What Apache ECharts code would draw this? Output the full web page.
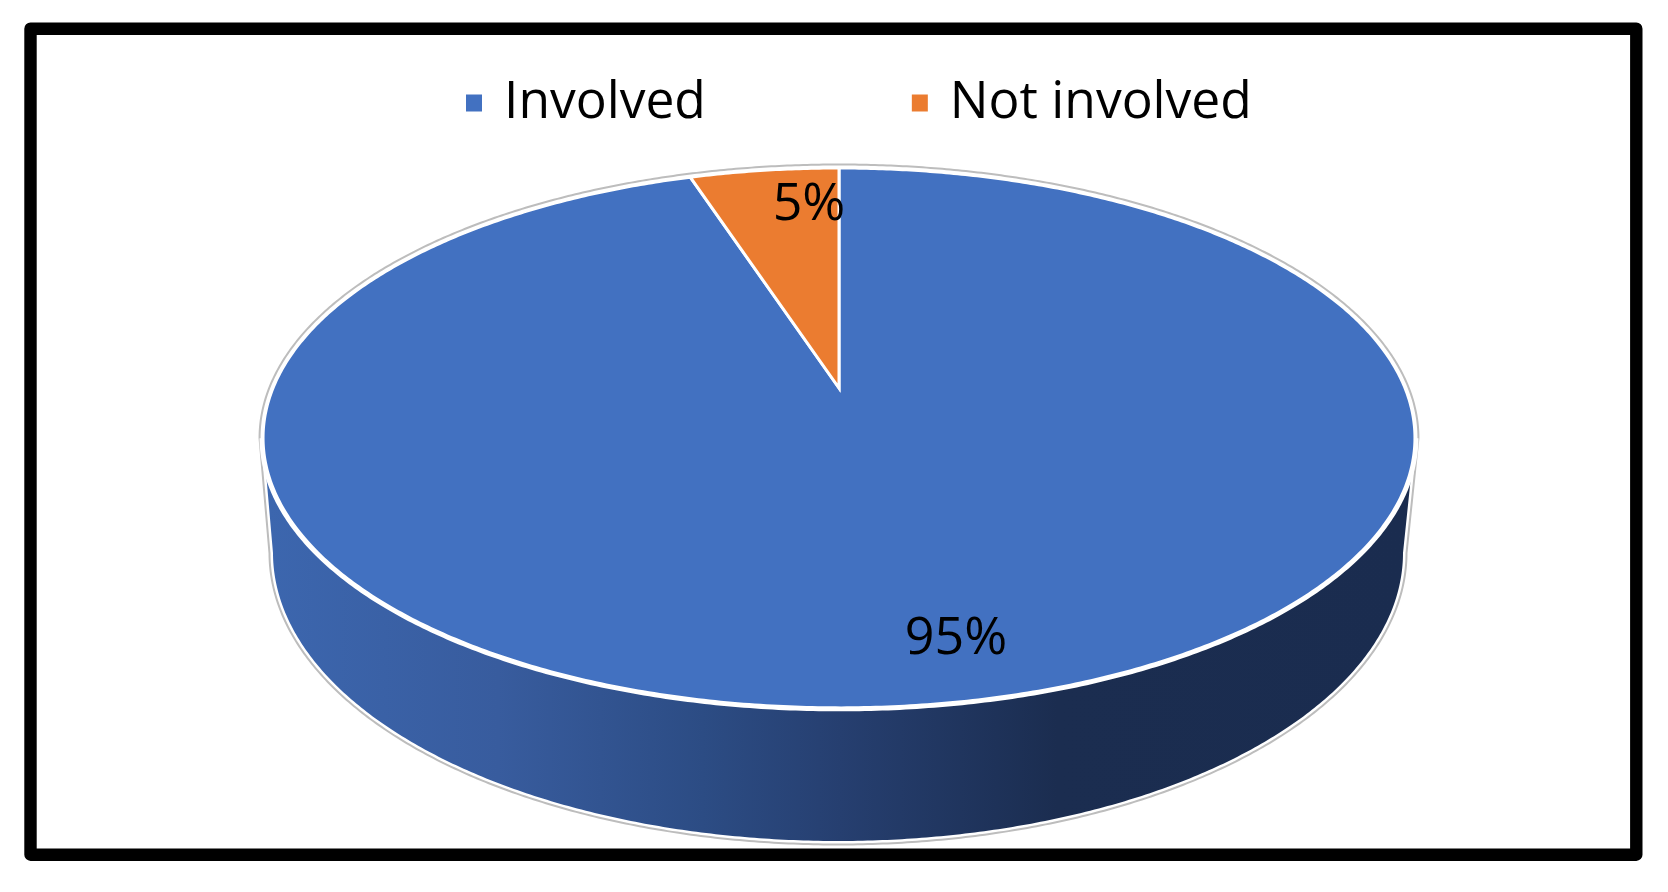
<!DOCTYPE html>
<html>
<head>
<meta charset="utf-8">
<style>html,body{margin:0;padding:0;background:#fff}#c{width:1668px;height:892px}</style>
<script src="https://cdn.jsdelivr.net/npm/echarts@6/dist/echarts.min.js"></script>
</head>
<body>
<div id="c"></div>
<script>
const categories = ['Involved', 'Not involved'];
const seriesValues = [95, 5];
const valueLabels = ['95%', '5%'];
const sliceColors = ['#4271C1', '#EB7C30'];

const font = '"Open Sans"';
const apex = { x: 839, y: 388 };
const persp = { rx: 566, ry: 260.7, k: -0.185 };
const base = { x: 838, y: 553, rx: 565, ry: 288 };
const labelPos = [[956, 639], [809, 205]];
const total = seriesValues.reduce((a, b) => a + b, 0);

// Point of the tilted disc rim at clockwise angle a (radians from 12 o'clock)
function rim(a, r) {
  const u = r * Math.sin(a), v = -r * Math.cos(a), d = 1 + persp.k * v;
  return [apex.x + persp.rx * u / d, apex.y + persp.ry * v / d];
}
function arc(a0, a1) {
  const pts = [], n = Math.max(8, Math.ceil(Math.abs(a1 - a0) * 120));
  for (let i = 0; i <= n; i++) pts.push(rim(a0 + (a1 - a0) * i / n, 1));
  return pts;
}
function extremes() {
  let l = 0, rr = 0, bx = Infinity, tx = -Infinity;
  for (let i = 0; i < 3600; i++) {
    const a = i / 3600 * 2 * Math.PI, p = rim(a, 1);
    if (p[0] < bx) { bx = p[0]; l = a; }
    if (p[0] > tx) { tx = p[0]; rr = a; }
  }
  return [rr, l];
}
function baseArc() {
  const pts = [];
  for (let i = 0; i <= 360; i++) {
    const t = i / 360 * Math.PI;
    pts.push([base.x + base.rx * Math.cos(t), base.y + base.ry * Math.sin(t)]);
  }
  return pts;
}

function renderSlice(params, api) {
  const i = params.seriesIndex, val = api.value(0);
  const before = seriesValues.slice(0, i).reduce((a, b) => a + b, 0);
  const a0 = before / total * 2 * Math.PI, a1 = (before + val) / total * 2 * Math.PI;
  const children = [];
  if (i === 0) {
    const [aR, aL] = extremes();
    const front = arc(aR, aL);               // lower rim of the top face
    const back = arc(aL, aR + 2 * Math.PI);  // upper rim of the top face
    const sil = back.concat(baseArc());
    children.push({ type: 'polygon', shape: { points: sil }, style: { fill: '#fff', stroke: '#BDBDBD', lineWidth: 9, lineJoin: 'round' } });
    children.push({ type: 'polygon', shape: { points: sil }, style: { fill: '#fff', stroke: '#fff', lineWidth: 5, lineJoin: 'round' } });
    children.push({
      type: 'polygon',
      shape: { points: front.concat(baseArc().reverse()) },
      style: {
        fill: new echarts.graphic.LinearGradient(270, 0, 1410, 0, [
          { offset: 0, color: '#3C66AE' },
          { offset: 0.2, color: '#385C9E' },
          { offset: 0.38, color: '#2C4C84' },
          { offset: 0.5, color: '#263F70' },
          { offset: 0.69, color: '#1B2D50' },
          { offset: 1, color: '#1A2C4F' }
        ], true)
      }
    });
    children.push({ type: 'polyline', shape: { points: front }, style: { fill: 'none', stroke: '#fff', lineWidth: 7 } });
  }
  const pts = [rim(0, 0)].concat(arc(a0, a1));
  children.push({
    type: 'polygon',
    shape: { points: pts },
    style: { fill: sliceColors[i], stroke: '#fff', lineWidth: 3, lineJoin: 'miter' }
  });
  children.push({
    type: 'text',
    style: {
      x: labelPos[i][0], y: labelPos[i][1], text: valueLabels[i],
      fill: '#000', fontFamily: font, fontSize: 52, align: 'center', verticalAlign: 'middle'
    }
  });
  return { type: 'group', children };
}

const chart = echarts.init(document.getElementById('c'), null, { renderer: 'canvas', width: 1668, height: 892 });
chart.setOption({
  animation: false,
  backgroundColor: '#fff',
  legend: {
    left: 466, top: 77,
    orient: 'horizontal',
    icon: 'rect', itemWidth: 16, itemHeight: 17, itemGap: 206,
    padding: 0,
    selectedMode: false,
    data: categories,
    textStyle: { fontFamily: font, fontSize: 51.5, color: '#000', padding: [0, 0, 0, 17] }
  },
  graphic: [{
    type: 'rect', silent: true, z: 10,
    shape: { x: 30.5, y: 28.7, width: 1605.8, height: 826 },
    style: { fill: 'none', stroke: '#000', lineWidth: 12.4, lineJoin: 'round' }
  }],
  series: categories.map((name, i) => ({
    type: 'custom', name, coordinateSystem: 'none',
    itemStyle: { color: sliceColors[i] },
    renderItem: renderSlice,
    data: [seriesValues[i]]
  }))
});
</script>
</body>
</html>
